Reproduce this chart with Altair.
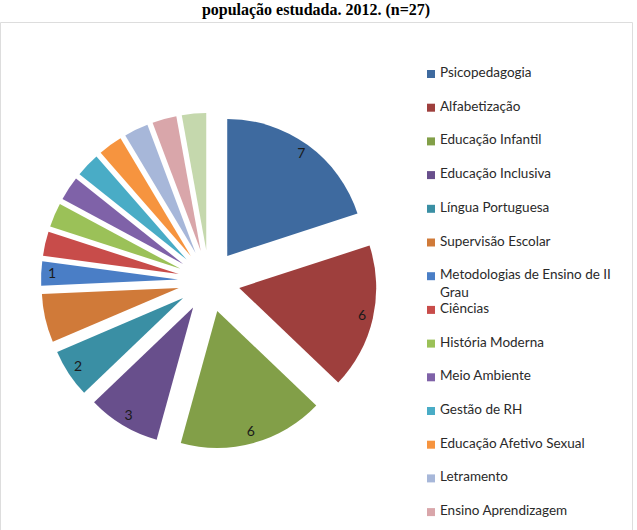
import altair as alt
import pandas as pd

cats = ["Psicopedagogia", "Alfabetização", "Educação Infantil", "Educação Inclusiva",
        "Língua Portuguesa", "Supervisão Escolar", "Metodologias de Ensino de II Grau",
        "Ciências", "História Moderna", "Meio Ambiente", "Gestão de RH",
        "Educação Afetivo Sexual", "Letramento", "Ensino Aprendizagem", "Outras"]
values = [7, 6, 6, 3, 2, 2, 1, 1, 1, 1, 1, 1, 1, 1, 1]
labels = ["7", "6", "6", "3", "2", "", "1", "", "", "", "", "", "", "", ""]
legend_labels = ["Psicopedagogia", "Alfabetização", "Educação Infantil", "Educação Inclusiva",
                 "Língua Portuguesa", "Supervisão Escolar", "Metodologias de Ensino de II\nGrau",
                 "Ciências", "História Moderna", "Meio Ambiente", "Gestão de RH",
                 "Educação Afetivo Sexual", "Letramento", "Ensino Aprendizagem", "Outras"]
colors = ["#3E6A9F", "#9E3F3D", "#829F48", "#684F8C", "#3A8FA4", "#D07A39",
          "#4A7EC6", "#C84C4A", "#9BC158", "#7F62A8", "#49ACC6", "#F6943F",
          "#A7B7D9", "#D9A6AA", "#C5D8AD"]

df = pd.DataFrame({"cat": cats, "value": values, "lab": labels,
                   "leglab": legend_labels, "idx": list(range(len(cats)))})

W, H = 632, 540
CX, CY, R, D, LR = 209, 259, 137, 31, 126

xs = alt.Scale(domain=[0, W], range=[0, W], nice=False, zero=False)
ys = alt.Scale(domain=[0, H], range=[0, H], nice=False, zero=False)
col = alt.Color("cat:N", scale=alt.Scale(domain=cats, range=colors), legend=None)

base = (
    alt.Chart(df)
    .transform_joinaggregate(total="sum(value)")
    .transform_window(cum="sum(value)", sort=[alt.SortField("idx")], frame=[None, 0])
    .transform_calculate(
        t0="(datum.cum - datum.value) / datum.total * 2 * PI",
        t1="datum.cum / datum.total * 2 * PI",
    )
    .transform_calculate(mid="(datum.t0 + datum.t1) / 2")
    .transform_calculate(
        px=f"{CX} + {D} * sin(datum.mid)",
        py=f"{CY} - {D} * cos(datum.mid)",
        lx=f"{CX} + {D + LR} * sin(datum.mid)",
        ly=f"{CY} - {D + LR} * cos(datum.mid)",
    )
)

pie = base.mark_arc(radius=R, stroke=None).encode(
    x=alt.X("px:Q", scale=xs, axis=None),
    y=alt.Y("py:Q", scale=ys, axis=None),
    theta=alt.Theta("t0:Q", scale=None),
    theta2="t1:Q",
    color=col,
)

pie_text = base.mark_text(font="Lato", fontSize=14, color="#1a1a1a",
                          align="center", baseline="middle").encode(
    x=alt.X("lx:Q", scale=xs, axis=None),
    y=alt.Y("ly:Q", scale=ys, axis=None),
    text="lab:N",
)

legy = alt.Y("cat:N", scale=alt.Scale(type="point", domain=cats,
                                       range=[52, 52 + 14 * 33.7], padding=0), axis=None)

leg_sym = alt.Chart(df).mark_square(size=64, opacity=1, filled=True).encode(
    x=alt.value(431), y=legy, color=col)

leg_txt = alt.Chart(df).mark_text(font="Lato", fontSize=13.5, color="#2a2a2a",
                                  align="left", baseline="top", dy=-8,
                                  lineBreak="\n", lineHeight=18).encode(
    x=alt.value(440), y=legy, text="leglab:N")

chart = (
    alt.layer(pie, pie_text, leg_sym, leg_txt)
    .resolve_scale(y="independent")
    .properties(
        width=W, height=H,
        padding={"left": 0, "top": 2, "right": 5, "bottom": 0},
        title=alt.TitleParams("população estudada. 2012. (n=27)", font="Liberation Serif",
                              fontSize=16, fontWeight="bold", color="black",
                              anchor="middle", offset=4),
    )
    .configure_view(stroke="#8c8c8c", strokeWidth=1)
    .configure(background="white")
)

chart.save("out.html", embed_options={"renderer": "svg", "actions": False})
